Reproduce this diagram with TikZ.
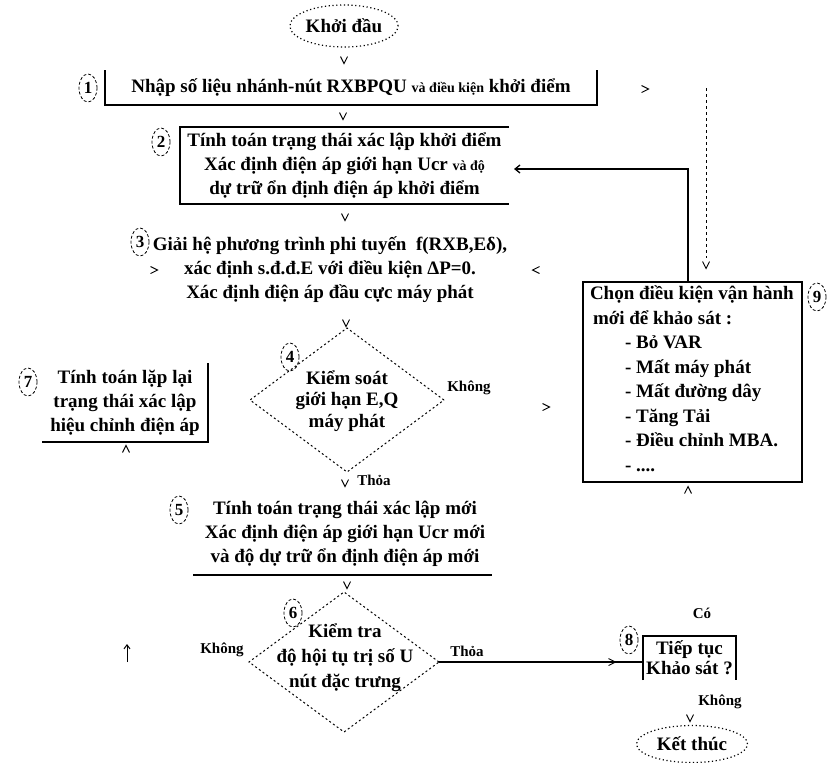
\documentclass[tikz,border=0pt]{standalone}
\usepackage{fontspec}
\setmainfont{Liberation Serif}
\usetikzlibrary{shapes.geometric,arrows.meta}
\tikzset{
  chevd/.pic={\draw[line width=0.9pt] (-3.5,-3.5) -- (0,3.5) -- (3.5,-3.5);},
  chevu/.pic={\draw[line width=0.9pt] (-3.5,3.5) -- (0,-3.5) -- (3.5,3.5);},
  chevr/.pic={\draw[line width=0.9pt] (-3.5,-3.5) -- (3.5,0) -- (-3.5,3.5);},
  chevl/.pic={\draw[line width=0.9pt] (3.5,-3.5) -- (-3.5,0) -- (3.5,3.5);},
}
\begin{document}
\begin{tikzpicture}[x=1pt,y=-1pt,
  every node/.style={inner sep=0pt,outer sep=0pt},
  bfont/.style={font=\bfseries\fontsize{19}{24}\selectfont},
  txt/.style={bfont,align=center},
  lbl/.style={font=\bfseries\fontsize{15}{17}\selectfont},
  num/.style={draw,ellipse,densely dashed,line width=0.8pt,minimum width=18pt,minimum height=28pt,font=\bfseries\fontsize{17}{17}\selectfont},
  term/.style={draw,ellipse,line width=1.2pt,dash pattern=on 1.2pt off 2.6pt,bfont},
  dia/.style={draw,diamond,line width=1pt,dash pattern=on 2pt off 2.6pt},
  box/.style={line width=1.3pt},
  edge/.style={line width=1.3pt},
]
\useasboundingbox (0,0) rectangle (831,763);

% start
\node[term,minimum width=98pt,minimum height=42pt] (start) at (344,26) {Khởi đầu};
\pic at (344,60) {chevd};

% box 1
\node[txt,minimum width=492pt,minimum height=35pt] (b1) at (351,87.5) {Nhập số liệu nhánh-nút RXBPQU {\fontsize{14}{16}\selectfont và điều kiện} khởi điểm};
\draw[box] (b1.north west) -- (b1.south west) -- (b1.south east) -- (b1.north east);
\node[num] (c1) at (88,88) {1};
\pic at (645,89) {chevr};
\pic at (343,116) {chevd};

% box 2
\node[txt,minimum width=329pt,minimum height=77pt] (b2) at (344.5,165.5) {Tính toán trạng thái xác lập khởi điểm\\Xác định điện áp giới hạn Ucr {\fontsize{14}{16}\selectfont và độ}\\dự trữ ổn định điện áp khởi điểm};
\draw[box] (b2.north east) -- (b2.north west) -- (b2.south west) -- (b2.south east);
\node[num] (c2) at (161,142) {2};
\pic at (345,217) {chevd};

% box 3
\node[txt] (b3) at (330,270) {Giải hệ phương trình phi tuyến \ f(RXB,Eδ),\\xác định s.đ.đ.E với điều kiện ΔP=0.\\Xác định điện áp đầu cực máy phát};
\node[num] (c3) at (140,242) {3};
\pic at (154,270) {chevr};
\pic at (536,270) {chevl};
\pic at (346,323) {chevd};

% diamond 4
\node[dia,minimum width=194pt,minimum height=144pt] (d4) at (347,400) {};
\node[txt,font=\bfseries\fontsize{19}{21.5}\selectfont] (t4) at (347,401) {Kiểm soát\\giới hạn E,Q\\máy phát};
\node[num] (c4) at (290,357) {4};
\node[lbl] (l4) at (469,388) {Không};
\pic at (546,407) {chevr};

% box 7
\node[txt,minimum width=166pt,minimum height=79pt] (b7) at (125,402.5) {Tính toán lặp lại\\trạng thái xác lập\\hiệu chỉnh điện áp};
\draw[box] (b7.south west) -- (b7.south east) -- (b7.north east);
\node[num] (c7) at (28,382) {7};
\pic at (126,449) {chevu};

% box 9
\node[draw,box,minimum width=219pt,minimum height=200pt] (b9) at (692.5,382) {};
\node[align=left,anchor=north west,font=\bfseries\fontsize{19}{24.5}\selectfont] (t9) at (590,286) {Chọn điều kiện vận hành\\\hspace*{3pt}mới để khảo sát :\\\hspace*{35pt}- Bỏ VAR\\\hspace*{35pt}- Mất máy phát\\\hspace*{35pt}- Mất đường dây\\\hspace*{35pt}- Tăng Tải\\\hspace*{35pt}- Điều chỉnh MBA.\\\hspace*{35pt}- ....};
\node[num] (c9) at (817,297) {9};
\pic at (688,490) {chevu};

% feedback to box 2
\draw[edge,-{Straight Barb[length=5pt,width=8pt]}] ([xshift=-4.5pt]b9.north) |- ([xshift=5pt,yshift=-3.5pt]b2.east);

% dashed line to box 9
\coordinate (dtop) at (706,88);
\coordinate (dbot) at (706,258);
\draw[line width=1pt,dashed] (dtop) -- (dbot);
\pic at (706,265) {chevd};

% below diamond 4
\pic at (345,483) {chevd};
\node[lbl] (l4b) at (374,480) {Thỏa};

% box 5
\node[minimum width=299pt,minimum height=84pt] (b5) at (342.5,533) {};
\node[txt] (t5) at (345,533.5) {Tính toán trạng thái xác lập mới\\Xác định điện áp giới hạn Ucr mới\\và độ dự trữ ổn định điện áp mới};
\draw[box] (b5.south west) -- (b5.south east);
\node[num] (c5) at (179,510) {5};
\pic at (347,585) {chevd};

% diamond 6
\node[dia,minimum width=190pt,minimum height=140pt] (d6) at (344,662) {};
\node[txt,font=\bfseries\fontsize{19}{25}\selectfont] (t6) at (345,658) {Kiểm tra\\độ hội tụ trị số U\\nút đặc trưng};
\node[num] (c6) at (293,613) {6};
\node[lbl] (l6a) at (222,650) {Không};
\node[lbl] (l6b) at (467,651) {Thỏa};
\coordinate (upb) at (127,662);
\coordinate (upt) at (127,644);
\draw[line width=1pt,-{Straight Barb[length=4pt,width=6pt]}] (upb) -- (upt);

% box 8
\node[txt,font=\bfseries\fontsize{19}{20}\selectfont,minimum width=93pt,minimum height=44pt] (b8) at (689.5,658) {Tiếp tục\\Khảo sát ?};
\draw[box] (b8.south west) -- (b8.north west) -- (b8.north east) -- (b8.south east);
\node[num] (c8) at (629,640) {8};
\draw[edge] (d6.east) -- (d6.east -| b8.west);
\pic at (612,662) {chevr};
\node[lbl] (l8a) at (702,613) {Có};
\node[lbl] (l8b) at (720,702) {Không};
\pic at (690,718) {chevd};
\node[term,minimum width=111pt,minimum height=37pt] (end) at (692,744) {Kết thúc};
\end{tikzpicture}
\end{document}
